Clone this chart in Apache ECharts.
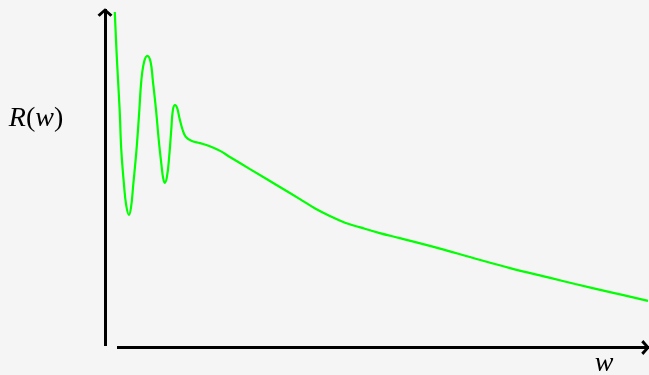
<!DOCTYPE html>
<html>
<head>
<meta charset="utf-8">
<style>
  html, body { margin: 0; padding: 0; background: #f5f5f5; }
  #chart { width: 649px; height: 375px; }
</style>
<script src="https://cdn.jsdelivr.net/npm/echarts@6/dist/echarts.min.js"></script>
</head>
<body>
<div id="chart"></div>
<script>
// Response curve R(w): oscillating start, then a slow decay.
const wValues = [
  0.18, 0.22, 0.27, 0.30, 0.35, 0.39, 0.44, 0.48, 0.52, 0.58,
  0.63, 0.67, 0.72, 0.78, 0.84, 0.88, 0.94, 0.99, 1.04, 1.07,
  1.10, 1.14, 1.18, 1.22, 1.25, 1.29, 1.33, 1.37, 1.43, 1.49,
  1.60, 1.75, 1.93, 2.12, 2.30, 2.67, 3.22, 3.59, 3.87, 4.14,
  4.42, 4.70, 5.06, 5.43, 6.17, 6.72, 7.46, 8.20, 8.66, 9.30,
  10.0
];
const rValues = [
  9.91, 8.49, 7.00, 5.82, 4.78, 4.18, 3.89, 4.12, 4.78, 5.82,
  6.94, 7.89, 8.43, 8.61, 8.43, 7.89, 7.00, 6.11, 5.37, 4.99,
  4.84, 5.01, 5.58, 6.41, 7.00, 7.15, 7.06, 6.77, 6.41, 6.20,
  6.08, 6.02, 5.93, 5.79, 5.61, 5.25, 4.72, 4.36, 4.08, 3.86,
  3.66, 3.52, 3.35, 3.20, 2.89, 2.64, 2.31, 2.02, 1.84, 1.60,
  1.34
];
const axisLabelX = 'w';

const curve = wValues.map((w, i) => [w, rValues[i]]);

// Open arrow head drawn as a filled chevron, tip at the top.
const arrowHead = 'path://M7,0 L14,6 L12,8 L7,3.4 L2,8 L0,6 Z';

const chart = echarts.init(document.getElementById('chart'), null, { renderer: 'canvas' });

const hidden = { show: false };
const mathFont = 'Liberation Serif';
const axisLine = {
  show: true, onZero: false,
  symbol: ['none', arrowHead], symbolSize: [15, 9], symbolOffset: [0, -3.5],
  lineStyle: { color: '#000', width: 3, cap: 'butt' }
};

chart.setOption({
  backgroundColor: '#f5f5f5',
  animation: false,
  grid: [
    { left: 105, right: 1, top: 9, bottom: 29 },
    { left: 117, right: 0, top: 9, bottom: 27.5 }
  ],
  xAxis: [
    { type: 'value', gridIndex: 0, min: 0, max: 10, axisLine: hidden, axisTick: hidden, axisLabel: hidden, splitLine: hidden },
    { type: 'value', gridIndex: 1, min: 0, max: 10, axisLine: axisLine, axisTick: hidden, axisLabel: hidden, splitLine: hidden }
  ],
  yAxis: [
    { type: 'value', gridIndex: 0, min: 0, max: 10, axisLine: axisLine, axisTick: hidden, axisLabel: hidden, splitLine: hidden },
    { type: 'value', gridIndex: 1, min: 0, max: 10, axisLine: hidden, axisTick: hidden, axisLabel: hidden, splitLine: hidden }
  ],
  graphic: [
    {
      type: 'text', x: 36, y: 119,
      style: {
        text: '{i|R}{n|(}{i|w}{n|)}',
        align: 'center', verticalAlign: 'middle',
        rich: {
          i: { fontFamily: mathFont, fontStyle: 'italic', fontSize: 28, fill: '#000' },
          n: { fontFamily: mathFont, fontSize: 28, fill: '#000' }
        }
      }
    },
    {
      type: 'text', x: 604, y: 378,
      style: {
        text: axisLabelX,
        align: 'center', verticalAlign: 'bottom',
        fontFamily: mathFont, fontStyle: 'italic', fontSize: 28, fill: '#000'
      }
    }
  ],
  series: [
    {
      type: 'line',
      xAxisIndex: 0, yAxisIndex: 0,
      data: curve,
      smooth: 0.4,
      showSymbol: false,
      lineStyle: { color: '#00ff00', width: 2.2 },
      z: 1
    }
  ]
});
</script>
</body>
</html>
